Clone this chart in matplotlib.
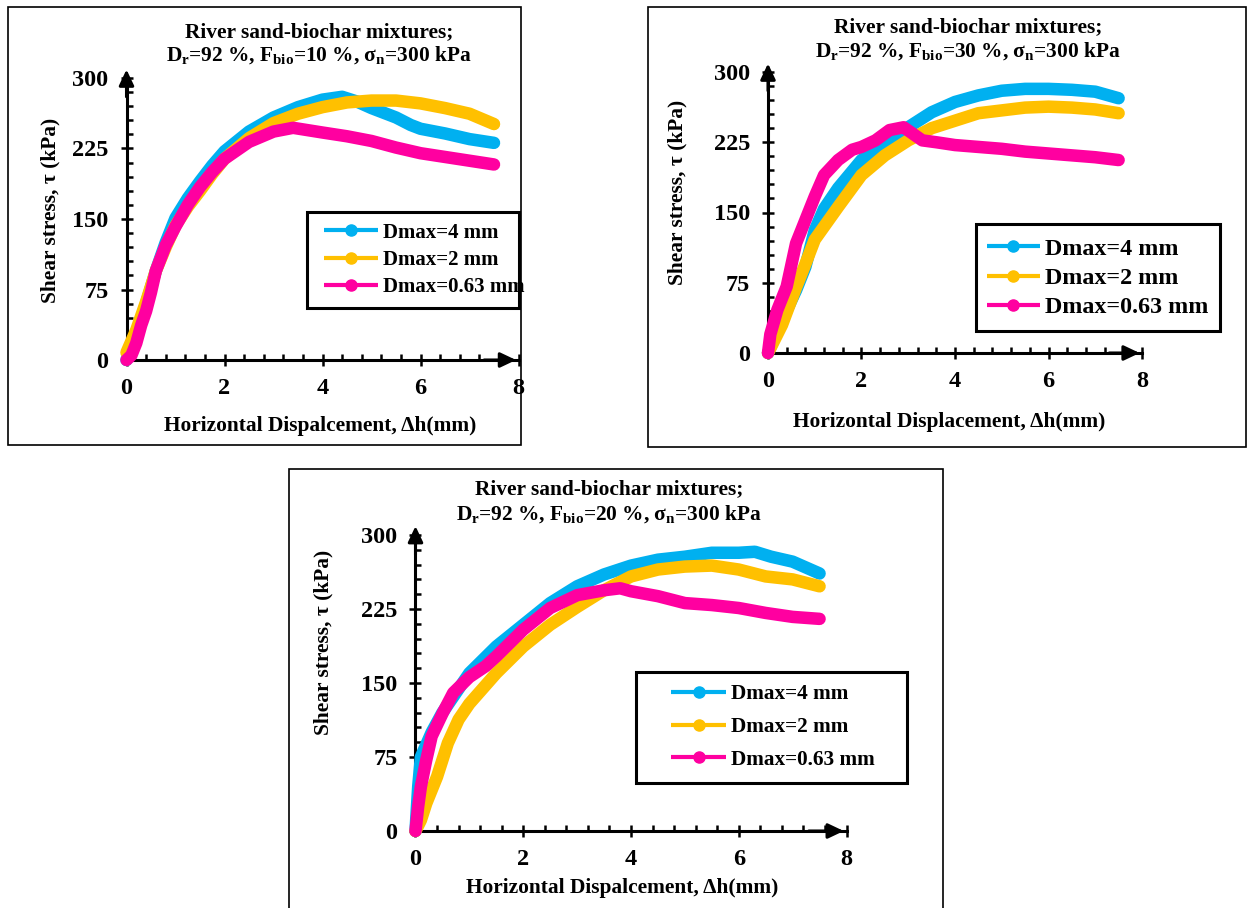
# Shear stress vs horizontal displacement, river sand-biochar mixtures
import matplotlib
matplotlib.use("Agg")
import matplotlib.pyplot as plt
from matplotlib.patches import Rectangle
from matplotlib.ticker import MultipleLocator

plt.rcParams['font.family'] = ['Liberation Serif', 'DejaVu Serif']
plt.rcParams['font.weight'] = 'bold'
plt.rcParams['mathtext.fontset'] = 'custom'
plt.rcParams['mathtext.rm'] = 'Liberation Serif:bold'
plt.rcParams['mathtext.it'] = 'Liberation Serif:bold'
plt.rcParams['mathtext.bf'] = 'Liberation Serif:bold'

# F_bio = 10 %
disp_10_d4 = [0, 0.1, 0.2, 0.4, 0.6, 0.8, 1.0, 1.25, 1.5, 1.75, 2.0, 2.5, 3.0, 3.5, 4.0, 4.4, 4.7, 5.0, 5.5, 5.8, 6.0, 6.5, 7.0, 7.5]
tau_10_d4 = [0, 12, 28, 60, 95, 125, 151, 172, 190, 207, 222, 243, 258, 269, 277, 280, 275, 268, 258, 250, 246, 241, 235, 231]
disp_10_d2 = [0, 0.2, 0.4, 0.6, 0.8, 1.0, 1.25, 1.5, 1.75, 2.0, 2.5, 3.0, 3.5, 4.0, 4.5, 5.0, 5.5, 6.0, 6.5, 7.0, 7.5]
tau_10_d2 = [8, 32, 62, 95, 120, 143, 163, 180, 198, 214, 236, 252, 262, 269, 274, 276, 276, 273, 268, 262, 251]
disp_10_d063 = [0, 0.1, 0.2, 0.3, 0.4, 0.5, 0.6, 0.8, 1.0, 1.25, 1.5, 1.75, 2.0, 2.5, 3.0, 3.4, 4.0, 4.5, 5.0, 5.5, 6.0, 6.5, 7.0, 7.5]
tau_10_d063 = [0, 5, 18, 37, 52, 72, 95, 122, 142, 165, 184, 200, 214, 232, 243, 247, 242, 238, 233, 226, 220, 216, 212, 208]

# F_bio = 30 %
disp_30_d4 = [0, 0.3, 0.6, 0.8, 1.0, 1.2, 1.5, 2.0, 2.5, 3.0, 3.5, 4.0, 4.5, 5.0, 5.5, 6.0, 6.5, 7.0, 7.5]
tau_30_d4 = [0, 35, 67, 92, 131, 154, 176, 206, 224, 241, 257, 268, 275, 280, 282, 282, 281, 279, 272]
disp_30_d2 = [0, 0.3, 0.6, 0.8, 1.0, 1.5, 2.0, 2.5, 3.0, 3.5, 4.0, 4.5, 5.0, 5.5, 6.0, 6.5, 7.0, 7.5]
tau_30_d2 = [0, 30, 70, 95, 121, 156, 190, 211, 227, 240, 248, 256, 259, 262, 263, 262, 260, 256]
disp_30_d063 = [0, 0.05, 0.2, 0.4, 0.6, 0.8, 1.0, 1.2, 1.5, 1.8, 2.0, 2.3, 2.6, 2.9, 3.1, 3.3, 3.6, 4.0, 5.0, 5.5, 6.0, 6.5, 7.0, 7.5]
tau_30_d063 = [0, 20, 46, 71, 117, 142, 167, 190, 206, 217, 220, 227, 238, 241, 234, 227, 225, 222, 218, 215, 213, 211, 209, 206]

# F_bio = 20 %
disp_20_d4 = [0, 0.05, 0.1, 0.3, 0.5, 1.0, 1.5, 2.0, 2.5, 3.0, 3.5, 4.0, 4.5, 5.0, 5.5, 6.0, 6.3, 6.6, 7.0, 7.5]
tau_20_d4 = [0, 45, 75, 100, 120, 160, 187, 209, 231, 248, 260, 269, 275, 278, 282, 282, 283, 278, 273, 261]
disp_20_d2 = [0, 0.1, 0.2, 0.4, 0.6, 0.8, 1.0, 1.5, 2.0, 2.5, 3.0, 3.5, 4.0, 4.5, 5.0, 5.5, 6.0, 6.5, 7.0, 7.5]
tau_20_d2 = [0, 11, 28, 55, 89, 113, 129, 160, 187, 209, 227, 244, 258, 265, 268, 269, 265, 258, 255, 248]
disp_20_d063 = [0, 0.05, 0.1, 0.2, 0.3, 0.5, 0.7, 1.0, 1.3, 1.5, 2.0, 2.5, 3.0, 3.5, 3.8, 4.0, 4.5, 5.0, 5.5, 6.0, 6.5, 7.0, 7.5]
tau_20_d063 = [0, 25, 45, 72, 96, 119, 140, 156, 167, 177, 204, 226, 239, 244, 246, 243, 238, 231, 229, 226, 221, 217, 215]

labels = ['Dmax=4 mm', 'Dmax=2 mm', 'Dmax=0.63 mm']
colors = ['#00B0F0', '#FFC000', '#FF00A0']

W, H = 1250, 908
fig = plt.figure(figsize=(W / 100, H / 100), dpi=100)


def fx(px):
    return px / W


def fy(py):
    return 1 - py / H


def panel(ax_px, frame_px, fbio, series, xlab, title_xy, ylab_xy, xlab_xy,
          leg_anchor, leg_box, leg_size, leg_spacing, leg_hlen):
    x0, y0, x8, y300 = ax_px
    ax = fig.add_axes([fx(x0), fy(y0), (x8 - x0) / W, (y0 - y300) / H])
    # рамка панели
    fl, ft, fr, fb = frame_px
    fig.patches.append(Rectangle((fx(fl), fy(fb)), (fr - fl) / W, (fb - ft) / H,
                                 transform=fig.transFigure, fill=False,
                                 edgecolor='black', lw=1.2))
    for (xs, ys), lab, col in zip(series, labels, colors):
        ax.plot(xs, ys, color=col, lw=9, label=lab, solid_capstyle='round',
                solid_joinstyle='round', clip_on=False, zorder=3)
    ax.set_xlim(0, 8)
    ax.set_ylim(0, 300)
    ax.set_xticks([0, 2, 4, 6, 8])
    ax.set_yticks([0, 75, 150, 225, 300])
    ax.xaxis.set_minor_locator(MultipleLocator(0.4))
    ax.yaxis.set_minor_locator(MultipleLocator(15))
    ax.tick_params(which='major', direction='inout', length=8, width=1.8,
                   labelsize=17.5, pad=9)
    ax.tick_params(which='minor', direction='in', length=4, width=1.8)
    for sp in ['top', 'right']:
        ax.spines[sp].set_visible(False)
    for sp in ['left', 'bottom']:
        ax.spines[sp].set_linewidth(2.2)
    ax.patch.set_visible(False)
    # стрелки осей
    ax.annotate('', xy=(7.95, 0), xytext=(7.3, 0), annotation_clip=False,
                arrowprops=dict(arrowstyle='-|>,head_length=0.95,head_width=0.45',
                                lw=2.2, color='black', shrinkA=0, shrinkB=0))
    ax.annotate('', xy=(0, 309), xytext=(0, 280), annotation_clip=False,
                arrowprops=dict(arrowstyle='-|>,head_length=0.95,head_width=0.45',
                                lw=2.2, color='black', shrinkA=0, shrinkB=0))
    # заголовок и подписи осей
    tx, tb1, tb2 = title_xy
    fig.text(fx(tx), fy(tb1), 'River sand-biochar mixtures;', ha='center',
             va='baseline', fontsize=15.4, fontweight='bold')
    fig.text(fx(tx), fy(tb2),
             r'D$_\mathrm{r}$=92 %, F$_\mathrm{bio}$=' + fbio +
             r' %, σ$_\mathrm{n}$=300 kPa',
             ha='center', va='baseline', fontsize=15.4, fontweight='bold')
    fig.text(fx(ylab_xy[0]), fy(ylab_xy[1]), 'Shear stress, τ (kPa)',
             rotation=90, ha='center', va='center', fontsize=15.4,
             fontweight='bold')
    fig.text(fx(xlab_xy[0]), fy(xlab_xy[1]), xlab, ha='center', va='center',
             fontsize=15.4, fontweight='bold')
    # легенда
    bl, bt, br, bb = leg_box
    fig.patches.append(Rectangle((fx(bl), fy(bb)), (br - bl) / W, (bb - bt) / H,
                                 transform=fig.transFigure, fill=False,
                                 edgecolor='black', lw=2.2, zorder=5))
    leg = ax.legend(loc='center left', bbox_to_anchor=(fx(leg_anchor[0]), fy(leg_anchor[1])),
                    bbox_transform=fig.transFigure, frameon=False, borderpad=0,
                    borderaxespad=0, numpoints=1, handlelength=leg_hlen,
                    handletextpad=0.22, labelspacing=leg_spacing,
                    prop={'family': 'Liberation Serif', 'weight': 'bold',
                          'size': leg_size})
    for ln in leg.get_lines():
        ln.set_linewidth(3)
        ln.set_marker('o')
        ln.set_markersize(8)
        ln.set_solid_capstyle('butt')
    return ax


panel((126.5, 360, 518.5, 78), (8, 7, 521, 445), '10',
      [(disp_10_d4, tau_10_d4), (disp_10_d2, tau_10_d2), (disp_10_d063, tau_10_d063)],
      'Horizontal Dispalcement, Δh(mm)', (319, 36.7, 61), (50, 210), (320, 426),
      (324, 260), (307, 212, 519, 308), 15.0, 0.36, 2.6)

panel((768, 353, 1142, 72), (648, 7, 1246, 447), '30',
      [(disp_30_d4, tau_30_d4), (disp_30_d2, tau_30_d2), (disp_30_d063, tau_30_d063)],
      'Horizontal Displacement, Δh(mm)', (968, 32, 57), (677, 192), (949, 422),
      (987, 278), (976, 224, 1220, 331), 17.3, 0.3, 2.2)

panel((415.5, 831, 846.5, 535), (289, 469, 943, 930), '20',
      [(disp_20_d4, tau_20_d4), (disp_20_d2, tau_20_d2), (disp_20_d063, tau_20_d063)],
      'Horizontal Dispalcement, Δh(mm)', (609, 494, 520), (323, 642), (622, 888),
      (671, 727), (636, 672, 907, 783), 15.3, 0.6, 2.6)

fig.savefig('out.png', dpi=100)
